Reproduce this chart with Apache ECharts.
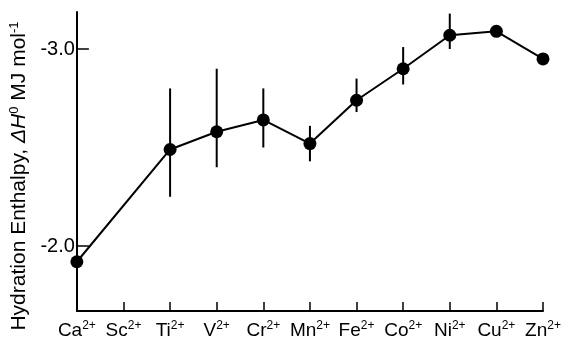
<!DOCTYPE html>
<html>
<head>
<meta charset="utf-8">
<script src="https://cdn.jsdelivr.net/npm/echarts@6/dist/echarts.min.js"></script>
<style>
html,body{margin:0;padding:0;background:#fff;}
#chart{width:578px;height:340px;}
</style>
</head>
<body>
<div id="chart"></div>
<script>
// Data
const ions = ['Ca', 'Sc', 'Ti', 'V', 'Cr', 'Mn', 'Fe', 'Co', 'Ni', 'Cu', 'Zn'];
const charge = '2+';
const enthalpy = [-1.92, null, -2.49, -2.58, -2.64, -2.52, -2.74, -2.90, -3.07, -3.09, -2.95];
const errTop = [null, null, -2.80, -2.90, -2.80, -2.61, -2.85, -3.01, -3.18, null, null];
const errBottom = [null, null, -2.25, -2.40, -2.50, -2.43, -2.68, -2.82, -3.00, null, null];
const yTicks = [-3.0, -2.0];

const FONT = '"Liberation Sans", Arial, sans-serif';

const errData = [];
ions.forEach((c, i) => {
  if (errTop[i] != null) errData.push([i, errTop[i], errBottom[i]]);
});

const chart = echarts.init(document.getElementById('chart'), null, {renderer: 'canvas'});
chart.setOption({
  animation: false,
  backgroundColor: '#fff',
  grid: {left: 75, right: 35, top: 12, bottom: 29},
  xAxis: {
    type: 'category',
    data: ions,
    boundaryGap: false,
    axisLine: {lineStyle: {color: '#000', width: 2}},
    axisTick: {inside: true, length: 9, lineStyle: {color: '#000', width: 1.5}},
    axisLabel: {
      margin: 9,
      interval: 0,
      color: '#000',
      fontFamily: FONT,
      formatter: v => '{b|' + v + '}{s|' + charge + '}',
      rich: {
        b: {fontSize: 19, fontFamily: FONT, color: '#000'},
        s: {fontSize: 12, fontFamily: FONT, color: '#000', padding: [0, 0, 9, 0]}
      }
    },
    splitLine: {show: false}
  },
  yAxis: {
    type: 'value',
    inverse: true,
    min: -3.188,
    max: -1.670,
    axisLine: {show: true, onZero: false, lineStyle: {color: '#000', width: 2}},
    axisTick: {show: true, inside: true, length: 12, customValues: yTicks, lineStyle: {color: '#000', width: 1.5}},
    axisLabel: {
      margin: 2,
      color: '#000',
      fontSize: 20,
      fontFamily: FONT,
      customValues: yTicks,
      formatter: v => v.toFixed(1)
    },
    splitLine: {show: false},
    name: '{n|Hydration Enthalpy, }{i|ΔH}{s|0}{n| MJ mol}{s|-1}',
    nameLocation: 'middle',
    nameRotate: 90,
    nameGap: 40,
    nameTextStyle: {
      padding: [0, 29, 0, 0],
      rich: {
        n: {fontSize: 21, fontFamily: FONT, color: '#000'},
        i: {fontSize: 21, fontFamily: FONT, fontStyle: 'italic', color: '#000'},
        s: {fontSize: 13, fontFamily: FONT, color: '#000', padding: [0, 0, 9, 0]}
      }
    }
  },
  series: [
    {
      type: 'custom',
      z: 2,
      data: errData,
      renderItem: (params, api) => {
        const p1 = api.coord([api.value(0), api.value(1)]);
        const p2 = api.coord([api.value(0), api.value(2)]);
        return {
          type: 'line',
          shape: {x1: p1[0], y1: p1[1], x2: p2[0], y2: p2[1]},
          style: {stroke: '#000', lineWidth: 2}
        };
      }
    },
    {
      type: 'line',
      z: 3,
      data: enthalpy,
      connectNulls: true,
      symbol: 'circle',
      symbolSize: 13,
      clip: false,
      itemStyle: {color: '#000'},
      lineStyle: {color: '#000', width: 2}
    }
  ]
});
</script>
</body>
</html>
